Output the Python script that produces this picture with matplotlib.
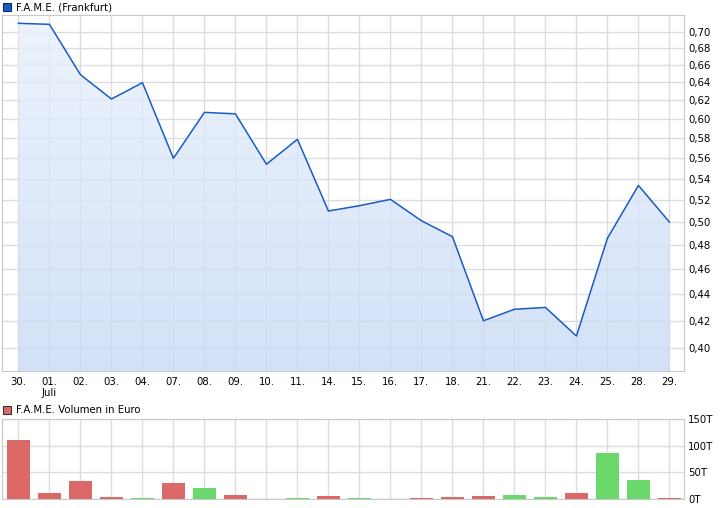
import matplotlib
matplotlib.use("Agg")
import matplotlib.pyplot as plt
import numpy as np
from matplotlib.patches import Rectangle
from matplotlib.ticker import FixedLocator, FuncFormatter, NullLocator

days = ["30.", "01.\nJuli", "02.", "03.", "04.", "07.", "08.", "09.", "10.", "11.",
        "14.", "15.", "16.", "17.", "18.", "21.", "22.", "23.", "24.", "25.", "28.", "29."]
price = [0.7105, 0.7092, 0.6488, 0.6215, 0.6397, 0.5597, 0.6070, 0.6054, 0.5538, 0.5788,
         0.5099, 0.5147, 0.5205, 0.5012, 0.4873, 0.4200, 0.4286, 0.4300, 0.4088, 0.4859,
         0.5335, 0.5000]
volume = [110.7, 10.7, 33.3, 3.1, 1.9, 29.6, 20.1, 6.9, 0.0, 1.3,
          5.0, 1.3, 0.0, 1.3, 3.1, 5.0, 6.9, 3.1, 10.7, 86.2, 35.2, 1.3]
vol_up = [False, False, False, False, True, False, True, False, False, True,
          False, True, False, False, False, False, True, True, False, True, True, False]
price_ticks = [0.40, 0.42, 0.44, 0.46, 0.48, 0.50, 0.52, 0.54, 0.56, 0.58,
               0.60, 0.62, 0.64, 0.66, 0.68, 0.70]
vol_ticks = [0, 50, 100, 150]

W, H = 726, 508
fig = plt.figure(figsize=(W / 100, H / 100), dpi=100)
fig.patch.set_facecolor("white")

def axes_px(x0, y0, x1, y1):
    return fig.add_axes([x0 / W, 1 - y1 / H, (x1 - x0) / W, (y1 - y0) / H])

grid_c = "#dcdcdc"
frame_c = "#c8c8c8"
fs = 7.3
x = np.arange(len(days))

# price panel
ax = axes_px(2, 15, 684, 371)
ax.set_yscale("log")
ax.set_xlim(-0.53, 21.47)
ax.set_ylim(0.3843, 0.721)
ax.plot(x, price, color="#1a5bc4", lw=1.1, zorder=4)
poly = ax.fill_between(x, price, 0.3843, color="none", lw=0)
# gradient fill, a bit transparent so the grid shows through like the original
grad = np.linspace(0, 1, 256).reshape(-1, 1, 1)
top = np.array([0.9125, 0.944, 0.99])
bot = np.array([0.7875, 0.856, 0.965])
img = top * (1 - grad) + bot * grad
im = ax.imshow(img, extent=[0, 1, 0, 1], transform=ax.transAxes,
               aspect="auto", zorder=1, alpha=0.8)
im.set_clip_path(poly.get_paths()[0], transform=ax.transData)
ax.yaxis.set_major_locator(FixedLocator(price_ticks))
ax.yaxis.set_minor_locator(NullLocator())
ax.yaxis.set_major_formatter(FuncFormatter(lambda v, p: f"{v:.2f}".replace(".", ",")))
ax.set_xticks(x)
ax.set_xticklabels(days)
ax.yaxis.tick_right()
ax.grid(True, color=grid_c, lw=1.0, zorder=0)
ax.set_axisbelow(True)
ax.tick_params(length=0, labelsize=fs, pad=3)
ax.tick_params(axis="x", pad=4)
for s in ax.spines.values():
    s.set_color(frame_c)

# volume panel
axv = axes_px(2, 419, 684, 499)
axv.set_xlim(-0.53, 21.47)
axv.set_ylim(0, 150)
cols = ["#6ad86a" if u else "#dc6868" for u in vol_up]
axv.bar(x, volume, width=0.73, color=cols, zorder=3)
axv.set_xticks(x)
axv.set_xticklabels([])
axv.set_yticks(vol_ticks)
axv.set_yticklabels([f"{v}T" for v in vol_ticks])
axv.yaxis.tick_right()
axv.grid(True, color=grid_c, lw=1.0, zorder=0)
axv.set_axisbelow(True)
axv.tick_params(length=0, labelsize=fs, pad=3)
for s in axv.spines.values():
    s.set_color(frame_c)

# legends
fig.patches.append(Rectangle((3 / W, 1 - 11 / H), 8 / W, 8 / H, transform=fig.transFigure,
                             facecolor="#1a5bc4", edgecolor="#0d2a66", lw=0.8))
fig.text(16 / W, 1 - 7 / H, "F.A.M.E. (Frankfurt)", fontsize=fs, va="center", ha="left")
fig.patches.append(Rectangle((3 / W, 1 - 414 / H), 8 / W, 8 / H, transform=fig.transFigure,
                             facecolor="#dc6868", edgecolor="#333333", lw=0.8))
fig.text(16 / W, 1 - 410 / H, "F.A.M.E. Volumen in Euro", fontsize=fs, va="center", ha="left")

fig.savefig("out.png", dpi=100)
